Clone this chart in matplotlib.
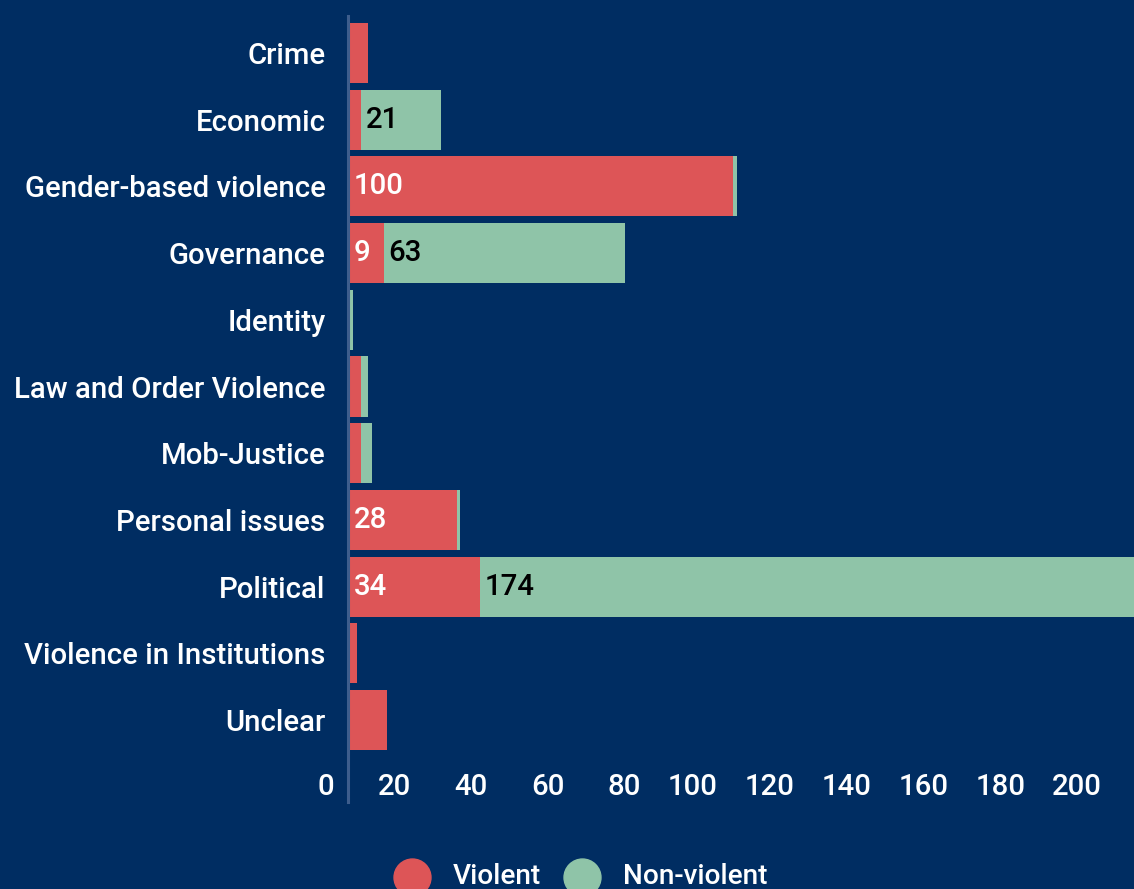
"""Stacked horizontal bar chart: violent vs non-violent events by category"""

import matplotlib
matplotlib.use('Agg')
import matplotlib.pyplot as plt
from matplotlib.lines import Line2D
from matplotlib.transforms import ScaledTranslation
import numpy as np

# Data
categories = [
    'Crime', 'Economic', 'Gender-based violence', 'Governance', 'Identity',
    'Law and Order Violence', 'Mob-Justice', 'Personal issues', 'Political',
    'Violence in Institutions', 'Unclear',
]
violent = [5, 3, 100, 9, 0, 3, 3, 28, 34, 2, 10]
non_violent = [0, 21, 1, 63, 1, 2, 3, 1, 174, 0, 0]
x_ticks = [0, 20, 40, 60, 80, 100, 120, 140, 160, 180, 200]
series_names = ['Violent', 'Non-violent']

BG = '#002D62'
RED = '#DD5557'
GREEN = '#8FC4A8'
AXIS = '#3D5D8C'

W, H, DPI = 1134, 889, 100
FONT = dict(family='Roboto', weight='medium', size=21.2)
LEG_FONT = dict(family='Roboto', weight='medium', size=20.2)

fig = plt.figure(figsize=(W / DPI, H / DPI), dpi=DPI, facecolor=BG)
ax = fig.add_axes([349 / W, 1 - 753.35 / H, 1 - 349 / W, (753.35 - 19.65) / H])
ax.set_facecolor(BG)

y = np.arange(len(categories))
ax.barh(y, violent, height=0.9, color=RED, linewidth=0)
ax.barh(y, non_violent, left=violent, height=0.9, color=GREEN, linewidth=0)

ax.set_xlim(0, 785 / 3.84)
ax.set_ylim(len(categories) - 0.5, -0.5)

for s in ax.spines.values():
    s.set_visible(False)

ax.set_yticks(y)
ax.set_yticklabels(categories, color='white', **FONT)
ax.tick_params(axis='y', length=0, pad=17)

ax.set_xticks(x_ticks)
ax.set_xticklabels([str(t) for t in x_ticks], color='white', ha='right', **FONT)
ax.tick_params(axis='x', length=0, pad=14)
shift = ScaledTranslation(-15 / DPI, 0, fig.dpi_scale_trans)
for lab in ax.get_xticklabels():
    lab.set_transform(lab.get_transform() + shift)

# left axis line runs a bit past the plot area
fig.add_artist(Line2D([347.5 / W, 347.5 / W], [1 - 16 / H, 1 - 802 / H],
                      transform=fig.transFigure, color=AXIS, lw=2.2))

# data labels, only where they fit in the bar
px_per_unit = ax.transData.transform((1, 0))[0] - ax.transData.transform((0, 0))[0]
lab_shift = ax.transData + ScaledTranslation(5 / DPI, 0, fig.dpi_scale_trans)
for i in range(len(categories)):
    for left, val, col in [(0, violent[i], 'white'),
                           (violent[i], non_violent[i], 'black')]:
        if val * px_per_unit >= 10 + 16 * len(str(val)):
            ax.text(left, i, str(val), color=col, va='center', ha='left',
                    transform=lab_shift, **FONT)

# legend at the bottom
for cx, tx, col, name in [(412, 453, RED, series_names[0]),
                          (582, 623, GREEN, series_names[1])]:
    fig.add_artist(Line2D([cx / W], [1 - 876.5 / H], transform=fig.transFigure,
                          marker='o', markersize=26.6, color=col, linestyle='none'))
    fig.text(tx / W, 1 - 884 / H, name, color='white', va='baseline', ha='left', **LEG_FONT)

fig.savefig('out.png', dpi=DPI, facecolor=BG)
plt.close()
